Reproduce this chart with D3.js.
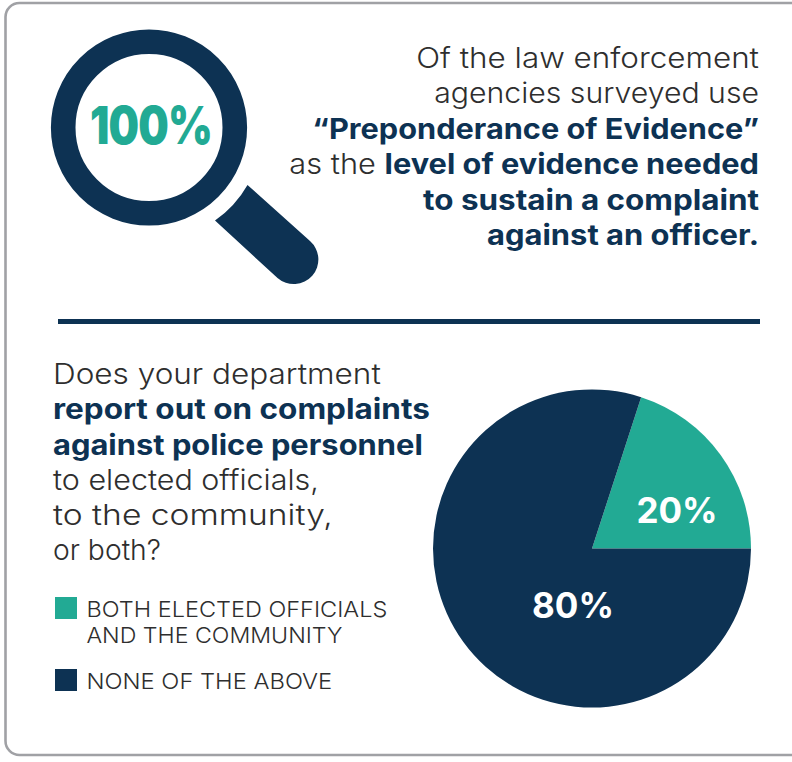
<!DOCTYPE html>
<html>
<head>
<meta charset="utf-8">
<script src="https://cdn.jsdelivr.net/npm/d3@7"></script>
<style>
html,body{margin:0;padding:0;background:#fff;overflow:hidden}
svg{display:block}
text{font-family:Inter,"Open Sans",sans-serif;white-space:pre}
</style>
</head>
<body>
<div id="chart"></div>
<script>
// Share of departments by who receives complaint reports
const sliceLabels = ["BOTH ELECTED OFFICIALS|AND THE COMMUNITY", "NONE OF THE ABOVE"];
const sliceValues = [20, 80];
const sliceColors = ["#22aa94", "#0d3253"];
const valueLabels = ["20%", "80%"];
const headlineValue = "100%";

// Copy lines: each line is a list of [text, emphasised] runs
const calloutLines = [
  [["Of the law enforcement", false]],
  [["agencies surveyed use", false]],
  [["“Preponderance of Evidence”", true]],
  [["as the ", false], ["level of evidence needed", true]],
  [["to sustain a complaint", true]],
  [["against an officer.", true]]
];
const questionLines = [
  [["Does your department", false]],
  [["report out on complaints", true]],
  [["against police personnel", true]],
  [["to elected officials,", false]],
  [["to the community,", false]],
  [["or both?", false]]
];

// Set widths of each line, in pixels
const calloutWidths = [343, 325, 447, 470, 336, 272];
const questionWidths = [328, 377, 370, 266, 280, 108];
const legendWidths = [[301, 256], [246]];

const width = 792, height = 762;
const navy = "#0d3253", teal = "#22aa94", ink = "#2e2e2e";

const svg = d3.select("#chart").append("svg")
  .attr("width", width).attr("height", height);

// Stretch a text element horizontally to its set width, pinned at x
function fit(sel, x, target) {
  const node = sel.node();
  const s = target / node.getComputedTextLength();
  sel.attr("transform", `translate(${x},0) scale(${s},1)`);
  return sel;
}

// Card outline, running past the right edge
svg.append("rect")
  .attr("x", 5.5).attr("y", 3).attr("width", 830).attr("height", 752).attr("rx", 14)
  .attr("fill", "#fff").attr("stroke", "#a0a1a5").attr("stroke-width", 2.6);

// Magnifying glass
const lens = { x: 149, y: 127.5 };
svg.append("circle")
  .attr("cx", lens.x).attr("cy", lens.y).attr("r", 85.8)
  .attr("fill", "#fff").attr("stroke", navy).attr("stroke-width", 24.6);
svg.append("path")
  .attr("fill", navy)
  .attr("d", "M247.5,185 L310,241 A24,24 0 0 1 277.5,278 L215,220.5 A108,108 0 0 0 247.5,185 Z");
fit(svg.append("text")
  .attr("x", 0).attr("y", 144).attr("text-anchor", "middle")
  .attr("font-size", 52).attr("font-weight", 900).attr("letter-spacing", -1)
  .attr("fill", teal).text(headlineValue), 151, 122);

function drawCopy(lines, widths, x, y0, step, anchor, size) {
  const block = svg.append("g");
  lines.forEach((runs, i) => {
    const t = block.append("text")
      .attr("x", 0).attr("y", y0 + i * step)
      .attr("text-anchor", anchor)
      .attr("font-size", size);
    runs.forEach(([txt, strong]) => {
      t.append("tspan")
        .attr("font-weight", strong ? 700 : 300)
        .attr("fill", strong ? navy : ink)
        .text(txt);
    });
    fit(t, x, widths[i]);
  });
}
drawCopy(calloutLines, calloutWidths, 759, 68, 35.4, "end", 28);

// Divider
svg.append("rect")
  .attr("x", 58).attr("y", 319).attr("width", 702).attr("height", 5).attr("fill", navy);

drawCopy(questionLines, questionWidths, 53, 384, 35.3, "start", 28);

// Legend
const legendRows = [
  { y: 597, lines: sliceLabels[0].split("|") },
  { y: 669, lines: sliceLabels[1].split("|") }
];
const legend = svg.append("g").selectAll("g").data(legendRows).join("g");
legend.append("rect")
  .attr("x", 55).attr("y", d => d.y).attr("width", 22).attr("height", 22)
  .attr("fill", (d, i) => sliceColors[i]);
legend.each(function(d, i) {
  d.lines.forEach((line, j) => {
    fit(d3.select(this).append("text")
      .attr("x", 0).attr("y", d.y + 20 + j * 26)
      .attr("font-size", 22).attr("font-weight", 300).attr("fill", ink)
      .text(line), 86.5, legendWidths[i][j]);
  });
});

// Pie: the teal slice ends at three o'clock
const center = { x: 592, y: 548.5 }, radius = 159;
const tealSweep = 2 * Math.PI * sliceValues[0] / d3.sum(sliceValues);
const pie = d3.pie().sort(null)
  .startAngle(Math.PI / 2 - tealSweep)
  .endAngle(Math.PI / 2 - tealSweep + 2 * Math.PI);
const arc = d3.arc().innerRadius(0).outerRadius(radius);
const pieG = svg.append("g").attr("transform", `translate(${center.x},${center.y})`);
pieG.selectAll("path").data(pie(sliceValues)).join("path")
  .attr("d", arc).attr("fill", (d, i) => sliceColors[i]);

const labelOffsets = [[85, -25.5], [-19, 69]];
pieG.selectAll("text").data(valueLabels).join("text")
  .attr("x", (d, i) => labelOffsets[i][0]).attr("y", (d, i) => labelOffsets[i][1])
  .attr("text-anchor", "middle")
  .attr("font-size", 35).attr("font-weight", 700).attr("fill", "#fff")
  .text(d => d);
</script>
</body>
</html>
